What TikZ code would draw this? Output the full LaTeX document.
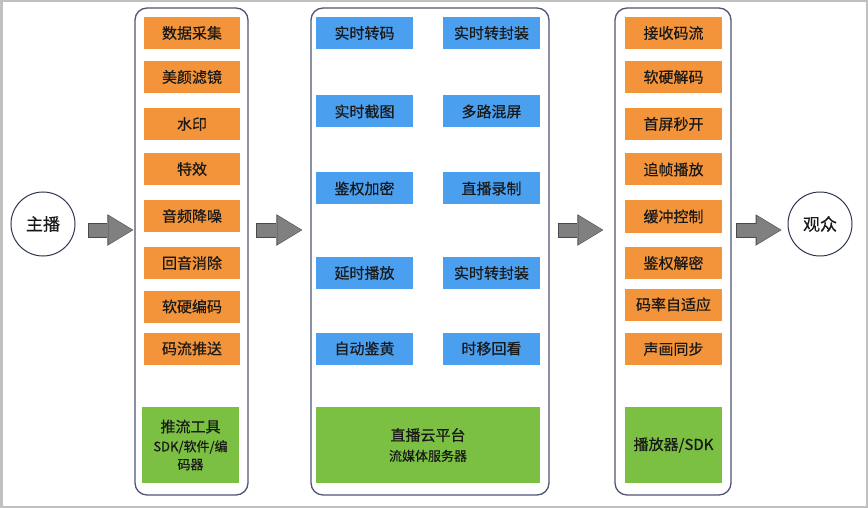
\documentclass[tikz,border=0pt]{standalone}
\usepackage{fontspec}
\setmainfont{Noto Sans CJK SC}[FakeBold=0.5]
\usetikzlibrary{arrows.meta,calc}

\definecolor{boxorange}{HTML}{F4943A}
\definecolor{boxblue}{HTML}{4B9FEF}
\definecolor{boxgreen}{HTML}{7BC043}
\definecolor{colborder}{HTML}{4F5575}
\definecolor{circborder}{HTML}{2F3652}
\definecolor{arrowgray}{HTML}{808080}
\definecolor{arrowedge}{HTML}{4A4A4A}
\definecolor{framegray}{HTML}{C0C0C0}

\begin{document}
\begin{tikzpicture}[x=1pt, y=-1pt,
  every node/.style={inner sep=0pt, text=black!90, font=\fontsize{15}{18}\selectfont},
  orangebox/.style={fill=boxorange, minimum width=96pt, minimum height=32pt},
  bluebox/.style={fill=boxblue, minimum width=97pt, minimum height=32pt},
  greenbox/.style={fill=boxgreen, minimum height=76pt, align=center},
  column/.style={draw=colborder, line width=1.3pt, rounded corners=12pt, minimum height=487pt},
  endpoint/.style={circle, draw=circborder, line width=1pt, minimum size=64pt, font=\fontsize{17}{20}\selectfont},
  fatarrow/.style={draw=arrowgray, line width=13pt, -{Triangle[length=24pt, width=29pt, line width=0pt]},
    preaction={draw=arrowedge, line width=15pt, -{Triangle[length=26pt, width=31.5pt, line width=0pt]}, shorten >=-1pt, shorten <=-1pt}}]

\useasboundingbox (0,0) rectangle (868,508);
\draw[framegray, line width=5pt] (0,0) rectangle (868,508);

% end points
\node[endpoint] (zhubo) at (43,224) {主播};
\node[endpoint] (guanzhong) at (820,224) {观众};

% three columns
\node[column, minimum width=113pt] (tuiliu) at (191.5,251.5) {};
\node[column, minimum width=238pt] (yun) at (430,251.5) {};
\node[column, minimum width=116pt] (bofang) at (673,251.5) {};

% push side
\node[orangebox] (t1) at (192,33) {数据采集};
\node[orangebox] (t2) at (192,77) {美颜滤镜};
\node[orangebox] (t3) at (192,124) {水印};
\node[orangebox] (t4) at (192,169) {特效};
\node[orangebox] (t5) at (192,216) {音频降噪};
\node[orangebox] (t6) at (192,263) {回音消除};
\node[orangebox] (t7) at (192,306.5) {软硬编码};
\node[orangebox] (t8) at (192,348.5) {码流推送};
\node[greenbox, minimum width=97pt] (tool) at (190.5,445) {推流工具\\[1pt]\fontsize{13}{17}\selectfont SDK/软件/编\\\fontsize{13}{17}\selectfont 码器};

% cloud side
\node[bluebox] (m1) at (364.5,33) {实时转码};
\node[bluebox] (m2) at (491.5,33) {实时转封装};
\node[bluebox] (m3) at (364.5,111.5) {实时截图};
\node[bluebox] (m4) at (491.5,111.5) {多路混屏};
\node[bluebox] (m5) at (364.5,188.5) {鉴权加密};
\node[bluebox] (m6) at (491.5,188.5) {直播录制};
\node[bluebox] (m7) at (364.5,273) {延时播放};
\node[bluebox] (m8) at (491.5,273) {实时转封装};
\node[bluebox] (m9) at (364.5,348.5) {自动鉴黄};
\node[bluebox] (m10) at (491.5,348.5) {时移回看};
\node[greenbox, minimum width=224pt] (server) at (428,445) {直播云平台\\[2pt]\fontsize{13}{16}\selectfont 流媒体服务器};

% play side
\node[orangebox, minimum width=97pt] (b1) at (673.5,33) {接收码流};
\node[orangebox, minimum width=97pt] (b2) at (673.5,77) {软硬解码};
\node[orangebox, minimum width=97pt] (b3) at (673.5,124) {首屏秒开};
\node[orangebox, minimum width=97pt] (b4) at (673.5,169.5) {追帧播放};
\node[orangebox, minimum width=97pt] (b5) at (673.5,216.5) {缓冲控制};
\node[orangebox, minimum width=97pt] (b6) at (673.5,263) {鉴权解密};
\node[orangebox, minimum width=97pt] (b7) at (673.5,304.5) {码率自适应};
\node[orangebox, minimum width=97pt] (b8) at (673.5,349) {声画同步};
\node[greenbox, minimum width=97pt] (player) at (673.5,445) {播放器/SDK};

% flow arrows
\coordinate (arrowy) at (0,230);
\draw[fatarrow] ($(zhubo.east |- arrowy)+(13,0)$) -- ($(tuiliu.west |- arrowy)+(-2,0)$);
\draw[fatarrow] ($(tuiliu.east |- arrowy)+(8,0)$) -- ($(yun.west |- arrowy)+(-9,0)$);
\draw[fatarrow] ($(yun.east |- arrowy)+(9,0)$) -- ($(bofang.west |- arrowy)+(-12,0)$);
\draw[fatarrow] ($(bofang.east |- arrowy)+(5,0)$) -- ($(guanzhong.west |- arrowy)+(-7,0)$);

\end{tikzpicture}
\end{document}
